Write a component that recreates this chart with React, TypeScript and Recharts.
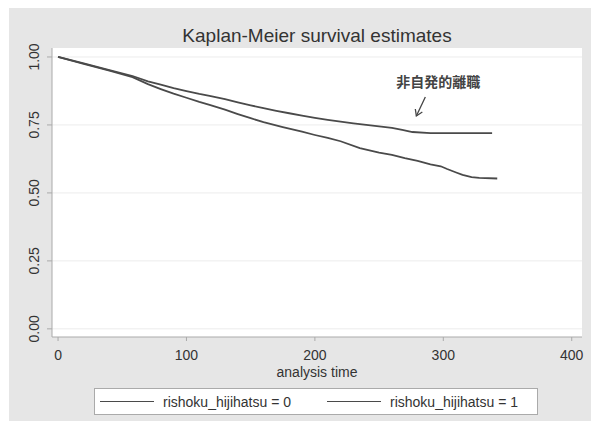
import React from "react";
import { LineChart, Line, XAxis, YAxis, CartesianGrid, ReferenceDot } from "recharts";

// Kaplan-Meier estimates
const time0 = [0, 20, 40, 58, 70, 80, 90, 100, 110, 118, 130, 140, 150, 160, 175, 190, 200, 210, 220, 235, 250, 260, 270, 280, 290, 298, 303, 310, 315, 322, 328, 342];
const surv0 = [1.0, 0.975, 0.95, 0.926, 0.9, 0.882, 0.865, 0.85, 0.835, 0.824, 0.806, 0.79, 0.775, 0.76, 0.742, 0.725, 0.713, 0.702, 0.69, 0.665, 0.648, 0.64, 0.628, 0.618, 0.605, 0.598, 0.588, 0.575, 0.566, 0.558, 0.555, 0.553];
const time1 = [0, 20, 40, 58, 70, 80, 90, 100, 110, 118, 130, 140, 150, 160, 170, 180, 190, 200, 210, 220, 230, 240, 250, 260, 268, 276, 290, 310, 338];
const surv1 = [1.0, 0.976, 0.952, 0.93, 0.91, 0.898, 0.885, 0.874, 0.864, 0.857, 0.845, 0.833, 0.822, 0.812, 0.802, 0.793, 0.784, 0.776, 0.769, 0.762, 0.756, 0.75, 0.745, 0.739, 0.732, 0.724, 0.72, 0.72, 0.72];
const seriesNames = ["rishoku_hijihatsu = 0", "rishoku_hijihatsu = 1"];
const xTicks = [0, 100, 200, 300, 400];
const yTicks = [0, 0.25, 0.5, 0.75, 1.0];
const annotationText = "非自発的離職";
const annotationTip = { t: 279, s: 0.783 };
const annotationLabel = { t: 296, s: 0.912 };

const data0 = time0.map((t, i) => ({ t, s: surv0[i] }));
const data1 = time1.map((t, i) => ({ t, s: surv1[i] }));

const FONT = "'Liberation Sans', Arial, sans-serif";
const LINE = "#4a4a4a";

const YTick = (props: any) => {
  const { x, y, payload } = props;
  const cx = x - 6;
  return (
    <text x={cx} y={y} transform={`rotate(-90 ${cx} ${y})`} textAnchor="middle" fontSize={14} fontFamily={FONT} fill="#333">
      {payload.value.toFixed(2)}
    </text>
  );
};

const Arrow = (props: any) => {
  const { cx, cy } = props;
  const sx = cx + 9, sy = cy - 19;
  return (
    <g stroke="#444" strokeWidth={1.3} fill="none">
      <line x1={sx} y1={sy} x2={cx} y2={cy} />
      <polyline points={`${cx - 1},${cy - 7} ${cx},${cy} ${cx + 6},${cy - 4}`} />
    </g>
  );
};

const AnnText = (props: any) => {
  const { cx, cy } = props;
  return (
    <text x={cx} y={cy} textAnchor="middle" dominantBaseline="central" fontSize={14} fontWeight="bold" fontFamily="'Noto Sans CJK JP', sans-serif" fill="#444">
      {annotationText}
    </text>
  );
};

const LegendBox = () => (
  <div style={{ width: 444, height: 27, background: "#fff", border: "1px solid #aaa", boxSizing: "border-box", position: "relative", fontFamily: FONT, fontSize: 14, color: "#333" }}>
    {seriesNames.map((n, i) => (
      <div key={n} style={{ position: "absolute", left: 5 + i * 227, top: 0, height: 25, display: "flex", alignItems: "center" }}>
        <div style={{ width: 54, height: 0, borderTop: `1.5px solid ${LINE}`, marginRight: 9 }} />
        <span>{n}</span>
      </div>
    ))}
  </div>
);

export default function App() {
  return (
    <div style={{ position: "absolute", left: 0, top: 0, width: 591, height: 425, background: "#fff" }}>
      <div style={{ position: "absolute", left: 9, top: 8, width: 582, height: 413, background: "#e6e6e6" }} />
      <div style={{ position: "absolute", left: 0, top: 25, width: 634, textAlign: "center", fontFamily: FONT, fontSize: 19, color: "#333" }}>
        Kaplan-Meier survival estimates
      </div>
      <div style={{ position: "absolute", left: 0, top: 0 }}>
        <LineChart width={591} height={425} margin={{ top: 48, right: 9, left: 22, bottom: 48 }}>
          <CartesianGrid vertical={false} horizontal={true} stroke="#ececec" fill="#fff" horizontalValues={yTicks} />
          <XAxis
            type="number"
            dataKey="t"
            domain={[-4.7, 408]}
            ticks={xTicks}
            allowDataOverflow
            height={40}
            tickSize={4}
            tickMargin={9}
            axisLine={{ stroke: "#aaa" }}
            tickLine={{ stroke: "#aaa" }}
            tick={{ fontSize: 14, fontFamily: FONT, fill: "#333" }}
            label={{ value: "analysis time", position: "insideBottom", offset: 0, fontSize: 14, fontFamily: FONT, fill: "#333" }}
          />
          <YAxis
            type="number"
            domain={[-0.03, 1.033]}
            ticks={yTicks}
            allowDataOverflow
            width={30}
            tickSize={5}
            tickMargin={2}
            axisLine={{ stroke: "#aaa" }}
            tickLine={{ stroke: "#aaa" }}
            tick={<YTick />}
          />
          <Line data={data0} dataKey="s" name={seriesNames[0]} type="linear" stroke={LINE} strokeWidth={1.8} dot={false} isAnimationActive={false} />
          <Line data={data1} dataKey="s" name={seriesNames[1]} type="linear" stroke={LINE} strokeWidth={1.8} dot={false} isAnimationActive={false} />
          <ReferenceDot x={annotationTip.t} y={annotationTip.s} r={0} shape={<Arrow />} />
          <ReferenceDot x={annotationLabel.t} y={annotationLabel.s} r={0} shape={<AnnText />} />
        </LineChart>
      </div>
      <div style={{ position: "absolute", left: 94, top: 388 }}>
        <LegendBox />
      </div>
    </div>
  );
}
